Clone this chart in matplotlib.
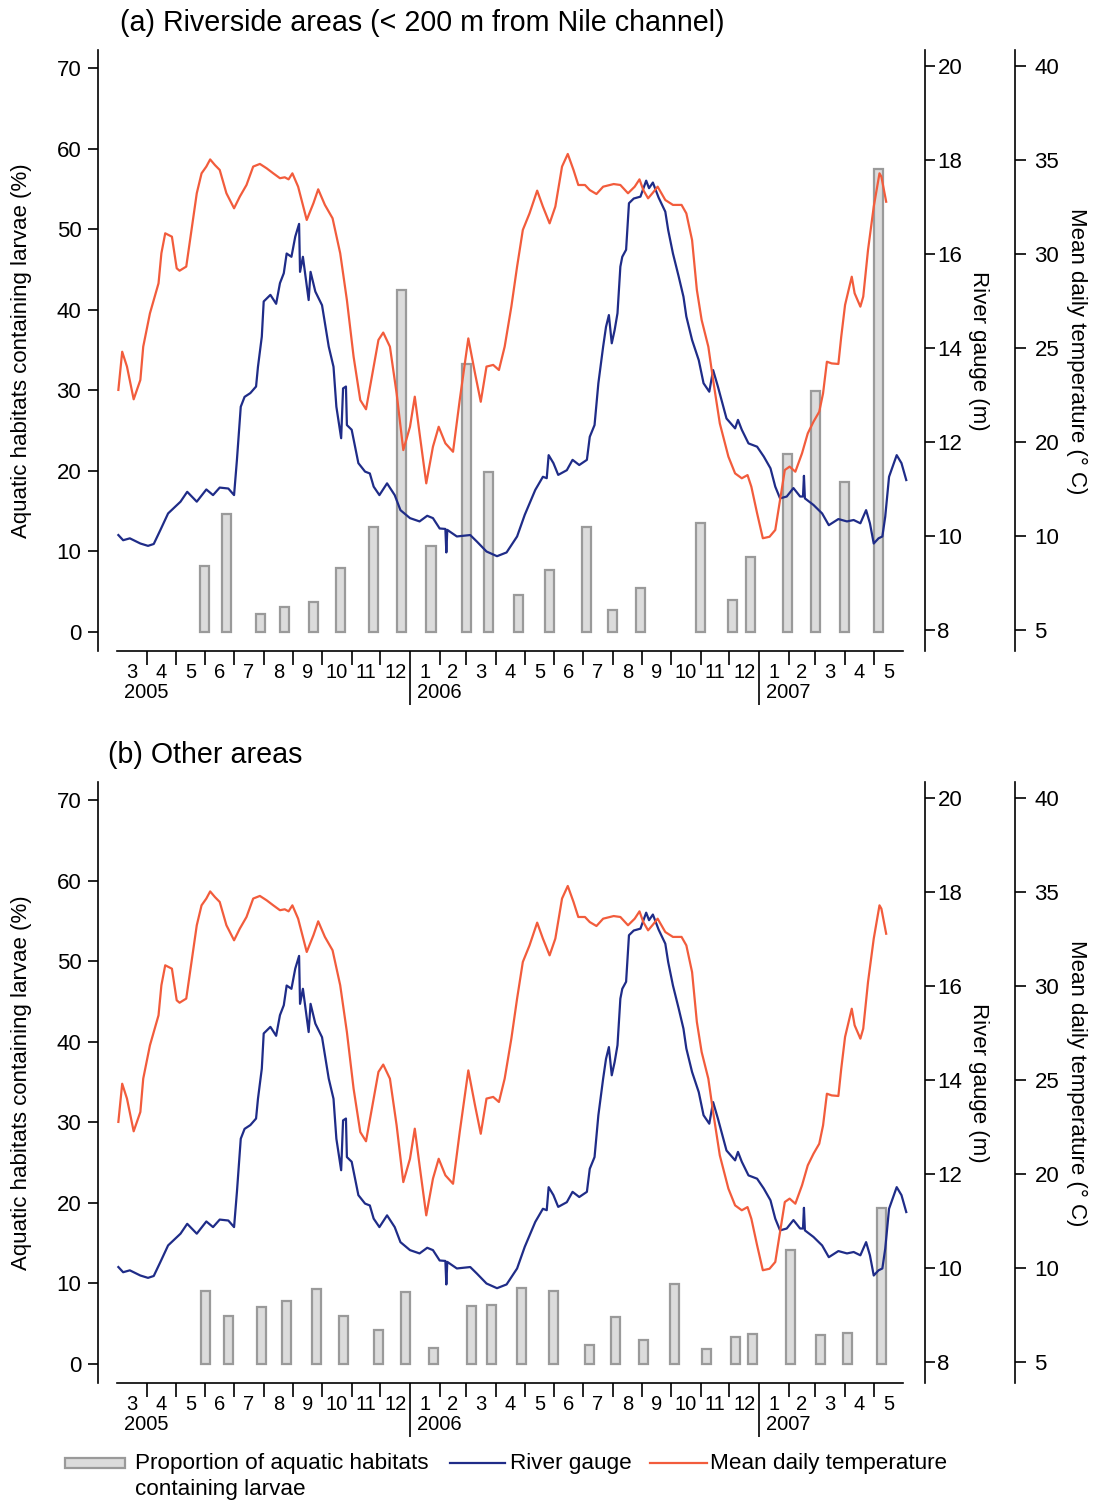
import numpy as np
import matplotlib
matplotlib.use("Agg")
import matplotlib.pyplot as plt
import matplotlib.dates as mdates
from matplotlib.transforms import ScaledTranslation
from matplotlib.patches import Rectangle
from matplotlib.lines import Line2D

plt.rcParams['font.family'] = ['Liberation Sans', 'DejaVu Sans']

# ---------------- data ----------------
START = np.datetime64('2005-01-01')   # day 0 of the day counts below

gauge_day = [60, 65, 72, 83, 91, 97, 104, 112, 125, 132,
             142, 152, 159, 166, 175, 181, 184, 188, 192, 198,
             204, 206, 210, 212, 219, 225, 229, 233, 236, 241,
             245, 249, 250, 253, 259, 261, 266, 273, 280, 285,
             288, 293, 295, 298, 299, 304, 311, 318, 323, 327,
             333, 341, 349, 355, 365, 375, 383, 389, 396, 402,
             403, 404, 414, 428, 435, 445, 456, 466, 477, 485,
             496, 504, 508, 510, 515, 520, 529, 535, 542, 550,
             553, 558, 562, 567, 570, 573, 576, 579, 582, 585,
             587, 591, 594, 599, 606, 612, 615, 619, 625, 632,
             635, 640, 646, 651, 654, 660, 667, 672, 678, 682,
             687, 696, 705, 708, 712, 719, 728, 735, 742, 747,
             752, 759, 766, 773, 776, 777, 778, 787, 796, 803,
             813, 822, 829, 836, 842, 846, 850, 855, 859, 862,
             866, 874, 879, 884]
gauge_m = [10.02, 9.91, 9.95, 9.84, 9.79, 9.83, 10.13, 10.48, 10.73, 10.94,
           10.73, 10.99, 10.87, 11.03, 11.01, 10.87, 11.62, 12.75, 12.96, 13.04,
           13.18, 13.60, 14.24, 14.99, 15.13, 14.94, 15.38, 15.59, 16.01, 15.94,
           16.37, 16.64, 15.62, 15.94, 15.02, 15.62, 15.20, 14.91, 14.03, 13.60,
           12.75, 12.08, 13.14, 13.18, 12.36, 12.26, 11.55, 11.37, 11.33, 11.05,
           10.87, 11.12, 10.87, 10.55, 10.38, 10.31, 10.43, 10.38, 10.16, 10.15,
           9.65, 10.13, 9.99, 10.02, 9.88, 9.67, 9.57, 9.65, 9.99, 10.45,
           10.98, 11.26, 11.23, 11.72, 11.55, 11.30, 11.40, 11.62, 11.51, 11.62,
           12.11, 12.36, 13.25, 14.03, 14.45, 14.70, 14.10, 14.38, 14.74, 15.73,
           15.94, 16.09, 17.08, 17.18, 17.22, 17.56, 17.40, 17.52, 17.20, 16.90,
           16.51, 16.01, 15.52, 15.09, 14.67, 14.17, 13.74, 13.25, 13.07, 13.53,
           13.18, 12.50, 12.29, 12.47, 12.26, 11.97, 11.90, 11.69, 11.44, 11.05,
           10.80, 10.84, 11.02, 10.84, 10.84, 11.28, 10.80, 10.66, 10.48, 10.23,
           10.36, 10.31, 10.34, 10.27, 10.55, 10.27, 9.84, 9.95, 9.99, 10.41,
           11.26, 11.72, 11.55, 11.19]

temp_day = [60, 64, 69, 76, 83, 86, 93, 102, 105, 109,
            116, 121, 124, 131, 137, 142, 147, 152, 156, 161,
            166, 173, 181, 187, 194, 201, 208, 215, 222, 229,
            234, 238, 242, 248, 257, 264, 269, 276, 284, 292,
            299, 306, 313, 319, 327, 332, 337, 344, 351, 358,
            365, 370, 375, 382, 389, 395, 402, 410, 417, 426,
            433, 439, 445, 452, 458, 464, 471, 477, 483, 490,
            498, 504, 511, 517, 524, 530, 536, 541, 548, 553,
            560, 567, 578, 585, 593, 600, 605, 609, 614, 619,
            624, 632, 640, 649, 654, 660, 665, 670, 677, 682,
            689, 698, 705, 712, 718, 722, 728, 734, 741, 747,
            752, 757, 762, 768, 775, 781, 787, 793, 797, 801,
            806, 813, 816, 820, 827, 830, 836, 839, 844, 850,
            856, 858, 863]
temp_c = [22.77, 24.80, 24.01, 22.27, 23.30, 25.07, 26.84, 28.44, 30.04, 31.10,
          30.92, 29.24, 29.11, 29.33, 31.45, 33.23, 34.29, 34.65, 35.03, 34.73,
          34.47, 33.23, 32.43, 33.05, 33.67, 34.65, 34.79, 34.56, 34.29, 34.03,
          34.08, 33.97, 34.29, 33.58, 31.81, 32.70, 33.44, 32.61, 31.90, 30.04,
          27.55, 24.54, 22.23, 21.74, 24.01, 25.43, 25.82, 25.07, 22.59, 19.57,
          20.81, 22.41, 20.46, 17.80, 19.75, 20.81, 19.93, 19.48, 22.23, 25.51,
          23.65, 22.14, 24.01, 24.10, 23.83, 25.07, 27.20, 29.33, 31.28, 32.16,
          33.37, 32.52, 31.63, 32.52, 34.65, 35.32, 34.47, 33.67, 33.67, 33.40,
          33.19, 33.58, 33.72, 33.67, 33.23, 33.58, 33.97, 33.40, 32.96, 33.26,
          33.58, 32.87, 32.61, 32.61, 32.16, 30.74, 28.09, 26.49, 25.07, 23.30,
          20.99, 19.22, 18.33, 18.07, 18.24, 17.62, 16.21, 14.88, 14.96, 15.32,
          16.91, 18.51, 18.69, 18.42, 19.40, 20.46, 21.08, 21.61, 22.59, 24.27,
          24.18, 24.15, 25.60, 27.29, 28.79, 27.91, 27.20, 27.73, 30.21, 32.52,
          34.29, 34.11, 32.78]

bar_a_date = ['2005-05-31', '2005-06-23', '2005-07-29', '2005-08-23', '2005-09-22',
              '2005-10-20', '2005-11-24', '2005-12-23', '2006-01-23', '2006-03-01',
              '2006-03-24', '2006-04-24', '2006-05-27', '2006-07-05', '2006-08-01',
              '2006-08-30', '2006-11-01', '2006-12-04', '2006-12-23', '2007-01-31',
              '2007-03-01', '2007-03-31', '2007-05-06']
bar_a_pct = [8.2, 14.6, 2.2, 3.1, 3.7, 7.9, 13.0, 42.4, 10.7, 33.3,
             19.9, 4.6, 7.7, 13.0, 2.7, 5.4, 13.5, 4.0, 9.3, 22.1,
             29.9, 18.6, 57.5]

bar_b_date = ['2005-06-01', '2005-06-25', '2005-07-30', '2005-08-25', '2005-09-25',
              '2005-10-23', '2005-11-29', '2005-12-27', '2006-01-26', '2006-03-06',
              '2006-03-27', '2006-04-28', '2006-05-31', '2006-07-08', '2006-08-04',
              '2006-09-02', '2006-10-05', '2006-11-07', '2006-12-07', '2006-12-25',
              '2007-02-03', '2007-03-06', '2007-04-04', '2007-05-09']
bar_b_pct = [9.1, 6.0, 7.1, 7.8, 9.3, 5.9, 4.2, 8.9, 2.0, 7.2,
             7.3, 9.4, 9.1, 2.4, 5.8, 3.0, 9.9, 1.8, 3.4, 3.7,
             14.1, 3.6, 3.8, 19.4]

pct_ticks = [0, 10, 20, 30, 40, 50, 60, 70]
gauge_ticks = [8, 10, 12, 14, 16, 18, 20]
temp_ticks = [10, 15, 20, 25, 30, 35, 40]
temp_tick_labels = ['5', '10', '20', '25', '30', '35', '40']

first_month = '2005-03'
end_month = '2007-06'

title_a = '(a) Riverside areas (< 200 m from Nile channel)'
title_b = '(b) Other areas'
ylabel_left = 'Aquatic habitats containing larvae (%)'
ylabel_gauge = 'River gauge (m)'
ylabel_temp = 'Mean daily temperature (° C)'
legend_labels = ['Proportion of aquatic habitats', 'containing larvae',
                 'River gauge', 'Mean daily temperature']

# ---------------- style ----------------
BLUE = '#1f2c88'
RED = '#f25c3c'
BAR_FACE = '#dcdcdc'
BAR_EDGE = '#9a9a9a'
W, H = 1093, 1502

fig = plt.figure(figsize=(W / 100, H / 100), dpi=100)

t0 = mdates.date2num(START)
g_x = t0 + np.array(gauge_day, dtype=float)
tp_x = t0 + np.array(temp_day, dtype=float)

months = np.arange(np.datetime64(first_month), np.datetime64(end_month),
                   dtype='datetime64[M]')
month_edges = np.append(months, months[-1] + 1)
edge_num = mdates.date2num(month_edges.astype('datetime64[D]'))
month_no = months.astype(int) % 12 + 1
inner_edges = month_edges[1:-1]
inner_num = edge_num[1:-1]
inner_no = inner_edges.astype(int) % 12 + 1
major_pos = inner_num[inner_no != 1]
minor_pos = inner_num[inner_no == 1]


def panel(top, bar_dates, bar_vals, title, title_x):
    x0, x1 = 98, 925
    y1 = top + 601
    ax = fig.add_axes([x0 / W, 1 - y1 / H, (x1 - x0) / W, 601 / H])
    bx = mdates.date2num(np.array(bar_dates, dtype='datetime64[D]'))
    ax.bar(bx, bar_vals, width=9.5, color=BAR_FACE, edgecolor=BAR_EDGE,
           linewidth=1.6, zorder=2)
    ax.set_xlim(t0 + 38.7, t0 + 903.6)
    ax.set_ylim(-2.36, 72.23)
    ax.set_yticks(pct_ticks)
    for s in ['top', 'right']:
        ax.spines[s].set_visible(False)
    for s in ['left', 'bottom']:
        ax.spines[s].set_linewidth(1.2)
    ax.spines['bottom'].set_bounds(edge_num[0], edge_num[-1])
    ax.set_xticks(major_pos)
    ax.set_xticks(minor_pos, minor=True)
    ax.tick_params(axis='x', which='major', direction='out', length=10,
                   width=1.2, labelbottom=False)
    ax.tick_params(axis='x', which='minor', direction='out', length=39,
                   width=1.2, labelbottom=False)
    ax.tick_params(axis='y', direction='out', length=7, width=1.2,
                   labelsize=16, pad=5)

    # month and year labels
    tr_m = ax.get_xaxis_transform() + ScaledTranslation(0, -0.21, fig.dpi_scale_trans)
    for i, m in enumerate(month_no):
        xc = 0.5 * (edge_num[i] + edge_num[i + 1])
        ax.text(xc, 0, str(m), transform=tr_m, ha='center', va='center',
                fontsize=14.5)
    tr_y = ax.get_xaxis_transform() + ScaledTranslation(0.07, -0.41, fig.dpi_scale_trans)
    for i, m in enumerate(month_no):
        if i == 0 or m == 1:
            yr = str(months[i].astype('datetime64[Y]'))
            ax.text(edge_num[i], 0, yr, transform=tr_y, ha='left',
                    va='center', fontsize=14.5)

    # river gauge axis
    axg = ax.twinx()
    axg.plot(g_x, gauge_m, color=BLUE, lw=1.6, zorder=3)
    axg.set_ylim(7.553, 20.34)
    axg.set_yticks(gauge_ticks)
    for s in ['left', 'top', 'bottom']:
        axg.spines[s].set_visible(False)
    axg.spines['right'].set_linewidth(1.2)
    axg.tick_params(axis='y', direction='out', length=7, width=1.2,
                    labelsize=16, pad=2)

    # temperature axis
    axt = ax.twinx()
    axt.plot(tp_x, temp_c, color=RED, lw=1.6, zorder=4)
    axt.set_ylim(8.883, 40.85)
    axt.spines['right'].set_position(('axes', (1015 - 98) / 827))
    axt.set_yticks(temp_ticks)
    axt.set_yticklabels(temp_tick_labels)
    for s in ['left', 'top', 'bottom']:
        axt.spines[s].set_visible(False)
    axt.spines['right'].set_linewidth(1.2)
    axt.tick_params(axis='y', direction='out', length=8, width=1.2,
                    labelsize=16, pad=6)

    # texts
    fig.text(title_x / W, 1 - (top - 27) / H, title, ha='left', va='center',
             fontsize=20.6)
    fig.text(22 / W, 1 - (top + 301) / H, ylabel_left, rotation=90,
             ha='center', va='center', fontsize=16)
    fig.text(978 / W, 1 - (top + 301) / H, ylabel_gauge, rotation=270,
             ha='center', va='center', fontsize=16)
    fig.text(1077 / W, 1 - (top + 301) / H, ylabel_temp, rotation=270,
             ha='center', va='center', fontsize=16)


panel(50, bar_a_date, bar_a_pct, title_a, 120)
panel(782, bar_b_date, bar_b_pct, title_b, 108)

# legend
def fy(y):
    return 1 - y / H

fig.patches.append(Rectangle((65 / W, fy(1468)), 60 / W, 10 / H,
                             transform=fig.transFigure, facecolor=BAR_FACE,
                             edgecolor=BAR_EDGE, linewidth=1.6))
fig.text(135 / W, fy(1463), legend_labels[0], ha='left', va='center', fontsize=16.2)
fig.text(135 / W, fy(1489), legend_labels[1], ha='left', va='center', fontsize=16.2)
fig.lines.append(Line2D([450 / W, 505 / W], [fy(1463), fy(1463)],
                        transform=fig.transFigure, color=BLUE, lw=1.6))
fig.text(510 / W, fy(1463), legend_labels[2], ha='left', va='center', fontsize=16.2)
fig.lines.append(Line2D([650 / W, 707 / W], [fy(1463), fy(1463)],
                        transform=fig.transFigure, color=RED, lw=1.6))
fig.text(710 / W, fy(1463), legend_labels[3], ha='left', va='center', fontsize=16.2)

fig.savefig('out.png', dpi=100)
